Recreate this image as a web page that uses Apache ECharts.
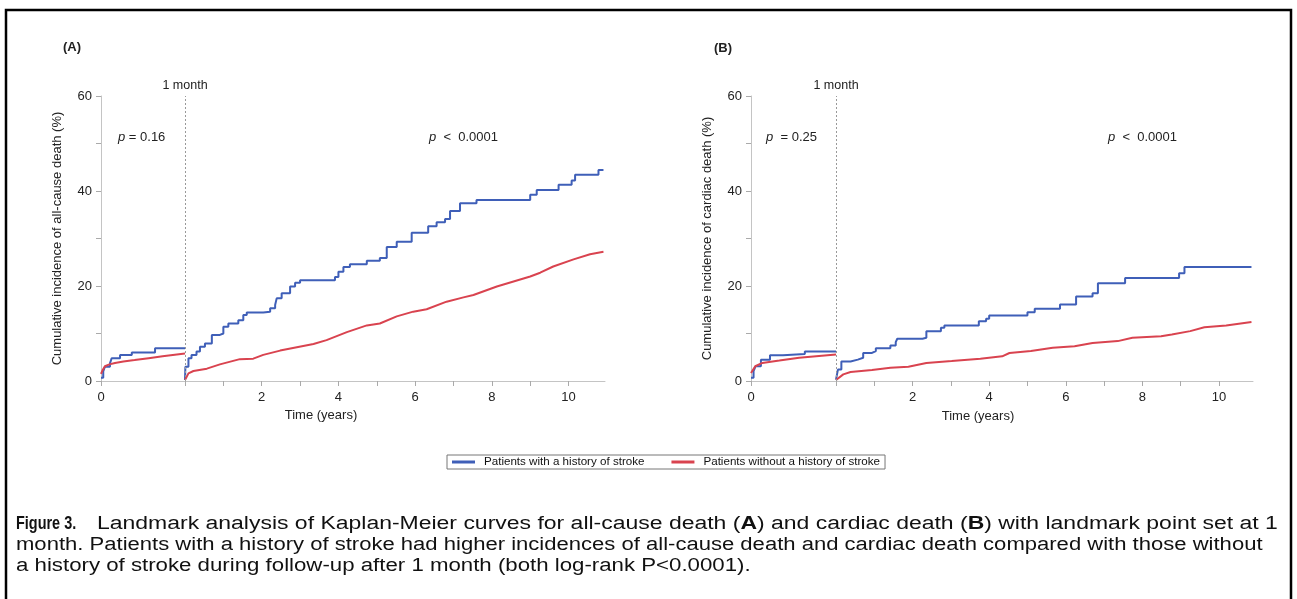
<!DOCTYPE html>
<html>
<head>
<meta charset="utf-8">
<script src="https://cdn.jsdelivr.net/npm/echarts@6/dist/echarts.min.js"></script>
<style>
  html, body { margin: 0; padding: 0; background: #fff; }
  #chart { width: 1297px; height: 599px; }
</style>
</head>
<body>
<div id="chart"></div>
<script>
// --- data (pre-landmark in days 0..30, post-landmark in years after 1 month) ---
var seriesNames = ['Patients with a history of stroke', 'Patients without a history of stroke'];
var yTicks = [0, 20, 40, 60];
var xYearLabels = [2, 4, 6, 8, 10];

// (A) all-cause death
var aStrokePre = [[0, 0.7], [0.8, 2.0], [1.4, 3.0], [3.2, 3.7], [3.8, 4.8], [6.8, 5.5], [11, 6.0], [19.3, 6.9], [30, 6.9]];
var aNoStrokePre = [[0, 1.5], [0.5, 2.2], [1.4, 3.1], [3, 3.5], [5, 3.8], [8, 4.1], [12, 4.4], [17, 4.8], [22, 5.2], [30, 5.8]];
var aStrokePost = [[0, 0.2], [0.01, 3.0], [0.09, 4.8], [0.17, 5.5], [0.3, 6.2], [0.39, 7.2], [0.52, 7.9], [0.7, 9.7],
  [0.91, 10.0], [1.0, 11.4], [1.13, 12.1], [1.39, 12.8], [1.52, 13.9], [1.61, 14.4], [2.04, 14.6], [2.22, 15.3],
  [2.35, 16.0], [2.39, 17.4], [2.52, 18.5], [2.74, 19.9], [2.87, 20.7], [3.0, 21.2], [3.91, 21.9], [4.0, 23.0],
  [4.13, 24.0], [4.3, 24.6], [4.74, 25.3], [5.08, 25.9], [5.26, 28.2], [5.52, 29.3], [5.91, 31.2], [6.34, 32.6],
  [6.56, 33.4], [6.78, 34.1], [6.91, 35.8], [7.17, 37.4], [7.6, 38.1], [9.0, 39.2], [9.17, 40.2], [9.74, 41.3],
  [10.08, 42.2], [10.17, 43.4], [10.78, 44.4], [10.91, 44.4]];
var aNoStrokePost = [[0, 0.2], [0.09, 1.6], [0.22, 2.1], [0.57, 2.6], [0.91, 3.5], [1.43, 4.6], [1.78, 4.7], [2.04, 5.5],
  [2.48, 6.4], [3.35, 7.8], [3.69, 8.6], [4.22, 10.3], [4.74, 11.7], [5.08, 12.1], [5.52, 13.6], [5.95, 14.6],
  [6.3, 15.1], [6.82, 16.7], [7.26, 17.6], [7.52, 18.1], [8.13, 19.9], [9.0, 22.0], [9.26, 22.8], [9.6, 24.1],
  [10.13, 25.6], [10.56, 26.7], [10.91, 27.2]];

// (B) cardiac death
var bStrokePre = [[0, 0.7], [0.9, 2.1], [1.6, 3.1], [3.5, 4.5], [6.7, 5.4], [11.3, 5.7], [19, 6.2], [30, 6.2]];
var bNoStrokePre = [[0, 1.7], [1.5, 3.1], [4, 3.8], [10, 4.3], [17, 4.9], [30, 5.6]];
var bStrokePost = [[0, 0.3], [0.05, 2.4], [0.14, 4.1], [0.38, 4.2], [0.42, 4.5], [0.57, 4.9], [0.71, 5.9], [0.94, 6.3],
  [1.04, 6.9], [1.42, 7.5], [1.56, 8.2], [1.6, 8.9], [2.26, 9.1], [2.36, 10.5], [2.74, 11.2], [2.83, 11.7],
  [3.73, 12.6], [3.92, 13.1], [4.0, 13.8], [5.0, 14.5], [5.19, 15.2], [5.85, 16.1], [6.27, 17.8], [6.7, 18.5],
  [6.84, 20.6], [7.55, 21.7], [8.96, 22.7], [9.1, 24.0], [10.85, 24.0]];
var bNoStrokePost = [[0, 0.2], [0.19, 1.4], [0.38, 1.9], [0.94, 2.3], [1.42, 2.8], [1.89, 3.0], [2.36, 3.8], [3.02, 4.2],
  [3.77, 4.7], [4.34, 5.2], [4.53, 5.9], [5.09, 6.3], [5.66, 7.0], [6.23, 7.3], [6.7, 8.0], [7.36, 8.4],
  [7.74, 9.1], [8.49, 9.4], [8.77, 9.8], [9.25, 10.5], [9.62, 11.3], [10.19, 11.7], [10.85, 12.4]];

var blue = '#3f5fb8';
var red = '#d9434f';
var axisGrey = '#c4c4c4';
var font = 'Liberation Sans, Arial, sans-serif';

var chart = echarts.init(document.getElementById('chart'));

function preX(idx) {
  return {
    gridIndex: idx, type: 'value', min: 0, max: 30,
    axisLine: { lineStyle: { color: axisGrey } },
    axisTick: { customValues: [0], length: 5, lineStyle: { color: '#aaa' } },
    axisLabel: { customValues: [0], color: '#222', fontSize: 13, fontFamily: font, margin: 10 },
    splitLine: { show: false }
  };
}
function postX(idx, max) {
  return {
    gridIndex: idx, type: 'value', min: 0, max: max,
    axisLine: { lineStyle: { color: axisGrey } },
    axisTick: { customValues: [0, 1, 2, 3, 4, 5, 6, 7, 8, 9, 10], length: 5, lineStyle: { color: '#aaa' } },
    axisLabel: { customValues: xYearLabels, color: '#222', fontSize: 13, fontFamily: font, margin: 10 },
    splitLine: { show: false }
  };
}
function preY(idx, name) {
  return {
    gridIndex: idx, type: 'value', min: 0, max: 60, interval: 10,
    name: name, nameLocation: 'middle', nameGap: 37,
    nameTextStyle: { color: '#222', fontSize: 13, fontFamily: font },
    axisLine: { show: true, lineStyle: { color: axisGrey } },
    axisTick: { show: true, length: 5, lineStyle: { color: '#aaa' } },
    axisLabel: { customValues: yTicks, color: '#222', fontSize: 13, fontFamily: font, margin: 9 },
    splitLine: { show: false }
  };
}
function postY(idx) {
  return { gridIndex: idx, type: 'value', min: 0, max: 60, show: false, splitLine: { show: false } };
}
function km(name, idx, data, color, step, landmark) {
  var s = {
    name: name, type: 'line', xAxisIndex: idx, yAxisIndex: idx, data: data,
    step: step ? 'end' : false, showSymbol: false, symbol: 'none',
    lineStyle: { color: color, width: 2 }, itemStyle: { color: color }, z: 3
  };
  if (landmark) {
    s.markLine = {
      silent: true, symbol: 'none',
      lineStyle: { color: '#999', type: [2, 2], width: 1 },
      label: { show: true, position: 'end', formatter: '1 month', color: '#222', fontSize: 12.5, fontFamily: font, distance: 4 },
      data: [{ xAxis: 0 }]
    };
  }
  return s;
}
function txt(x, y, text, opt, sx) {
  return {
    type: 'text', x: x, y: y, scaleX: sx || 1,
    style: Object.assign({ text: text, fill: '#222', font: '13px ' + font, textVerticalAlign: 'middle' }, opt || {})
  };
}
var pRich = { i: { fontStyle: 'italic', fontSize: 13, fontFamily: font, fill: '#222' } };
var capFont = '18px ' + font;

var option = {
  animation: false,
  backgroundColor: '#fff',
  grid: [
    { left: 101, top: 96, width: 84, height: 285 },
    { left: 185, top: 96, width: 420, height: 285 },
    { left: 751, top: 96, width: 85, height: 285 },
    { left: 836, top: 96, width: 417, height: 285 }
  ],
  xAxis: [preX(0), postX(1, 10.95), preX(2), postX(3, 10.89)],
  yAxis: [preY(0, 'Cumulative incidence of all-cause death (%)'), postY(1),
          preY(2, 'Cumulative incidence of cardiac death (%)'), postY(3)],
  legend: {
    left: 447, top: 455,
    data: seriesNames,
    icon: 'rect', itemWidth: 23, itemHeight: 3, itemGap: 27,
    padding: [1, 5, 1, 5],
    borderColor: '#777', borderWidth: 1,
    textStyle: { color: '#111', fontSize: 11.6, fontFamily: font, padding: [0, 0, 0, 4] }
  },
  series: [
    km(seriesNames[0], 0, aStrokePre, blue, true),
    km(seriesNames[1], 0, aNoStrokePre, red, false),
    km(seriesNames[0], 1, aStrokePost, blue, true, true),
    km(seriesNames[1], 1, aNoStrokePost, red, false),
    km(seriesNames[0], 2, bStrokePre, blue, true),
    km(seriesNames[1], 2, bNoStrokePre, red, false),
    km(seriesNames[0], 3, bStrokePost, blue, true, true),
    km(seriesNames[1], 3, bNoStrokePost, red, false)
  ],
  graphic: [
    // outer frame
    { type: 'rect', shape: { x: 6, y: 10, width: 1285, height: 620 }, style: { fill: null, stroke: '#000', lineWidth: 2.5 }, silent: true },
    txt(72, 47, '(A)', { font: 'bold 13px ' + font, textAlign: 'center' }),
    txt(723, 48, '(B)', { font: 'bold 13px ' + font, textAlign: 'center' }),
    txt(118, 137, '{i|p} = 0.16', { rich: pRich }),
    txt(429, 137, '{i|p}  <  0.0001', { rich: pRich }),
    txt(766, 137, '{i|p}  = 0.25', { rich: pRich }),
    txt(1108, 137, '{i|p}  <  0.0001', { rich: pRich }),
    txt(321, 415, 'Time (years)', { textAlign: 'center' }),
    txt(978, 416, 'Time (years)', { textAlign: 'center' }),
    // caption
    txt(16, 524, 'Figure 3.', { font: 'bold 19px ' + font, fill: '#111' }, 0.76),
    txt(97, 524, 'Landmark analysis of Kaplan-Meier curves for all-cause death ({b|A}) and cardiac death ({b|B}) with landmark point set at 1',
      { font: capFont, fill: '#111', rich: { b: { fontWeight: 'bold', fontSize: 18, fontFamily: font, fill: '#111' } } }, 1.276),
    txt(16, 545, 'month. Patients with a history of stroke had higher incidences of all-cause death and cardiac death compared with those without',
      { font: capFont, fill: '#111' }, 1.225),
    txt(16, 566, 'a history of stroke during follow-up after 1 month (both log-rank P<0.0001).',
      { font: capFont, fill: '#111' }, 1.235)
  ]
};

chart.setOption(option);
</script>
</body>
</html>
